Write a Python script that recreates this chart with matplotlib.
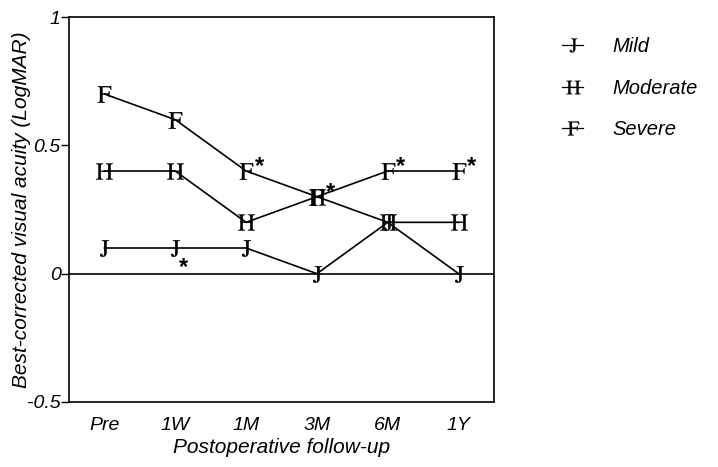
import matplotlib
matplotlib.use("Agg")
import matplotlib.pyplot as plt

# ── Daten ────────────────────────────────────────────────────────────────────
visits   = ["Pre", "1W", "1M", "3M", "6M", "1Y"]
mild     = [0.1, 0.1, 0.1, 0.0, 0.2, 0.0]
moderate = [0.4, 0.4, 0.2, 0.3, 0.2, 0.2]
severe   = [0.7, 0.6, 0.4, 0.3, 0.4, 0.4]
y_ticks  = [-0.5, 0, 0.5, 1]
y_labels = ["-0.5", "0", "0.5", "1"]
# significance stars: severe at these visits, mild one just above 0 at 1W
stars_severe = [2, 3, 4, 5]
star_mild    = (1, 0.0)

plt.rcParams["mathtext.fontset"] = "stix"
sans = "Liberation Sans"

fig = plt.figure(figsize=(7.18, 4.67), dpi=100)
ax = fig.add_axes([69/718, 65/467, 425/718, 385/467])
x = list(range(len(visits)))

series = [("Mild", mild, "J"), ("Moderate", moderate, "H"), ("Severe", severe, "F")]
for name, vals, letter in series:
    ax.plot(x, vals, color="black", lw=1.2, marker=r"$\mathrm{%s}$" % letter,
            ms=12, mec="black", mfc="black", mew=0.2, label=name)

for i in stars_severe:
    ax.annotate("*", (x[i], severe[i]), xytext=(9.5, -1.5), textcoords="offset points",
                fontsize=17, family=sans, weight="bold", ha="center", va="baseline")
ax.annotate("*", (x[star_mild[0]], star_mild[1]), xytext=(6, -0.5), textcoords="offset points",
            fontsize=17, family=sans, weight="bold", ha="center", va="baseline")

ax.axhline(0, color="black", lw=1.2)
ax.set_xlim(-0.5, 5.5)
ax.set_ylim(-0.5, 1)
ax.set_xticks(x)
ax.set_xticklabels(visits, fontsize=14, family=sans, style="italic")
ax.set_yticks(y_ticks)
ax.set_yticklabels(y_labels, fontsize=14, family=sans, style="italic")
ax.tick_params(axis="x", length=0, pad=11)
ax.tick_params(axis="y", length=6, width=1, pad=0)
for sp in ax.spines.values():
    sp.set_linewidth(1.2)

ax.set_xlabel("Postoperative follow-up", fontsize=15, family=sans, style="italic", labelpad=3)
ax.set_ylabel("Best-corrected visual acuity (LogMAR)", fontsize=15, family=sans,
              style="italic")
ax.yaxis.set_label_coords(-38/425, 0.5)

leg = ax.legend(loc="upper left", bbox_to_anchor=(1.118, 0.995), frameon=False,
                prop={"family": sans, "style": "italic", "size": 14.5},
                handlelength=1.05, labelspacing=1.12, handletextpad=1.45)
for h in leg.legend_handles:
    h.set_linewidth(0.9)
    h.set_markersize(10)

fig.savefig("out.png", dpi=100)
plt.close(fig)
